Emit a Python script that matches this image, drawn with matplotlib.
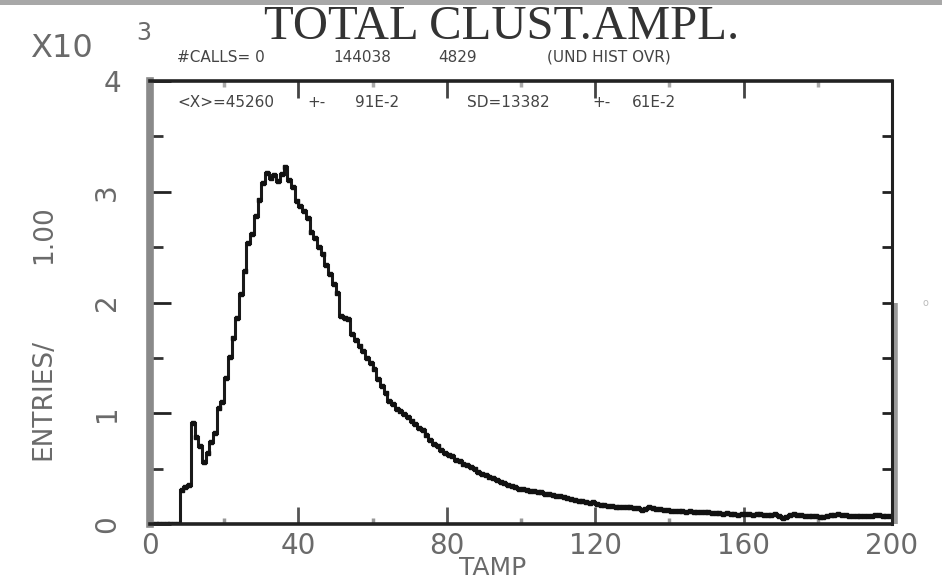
import numpy as np
import matplotlib
matplotlib.use("Agg")
import matplotlib.pyplot as plt

# TAMP histogram, bin width 1, bins 0..199
counts = [
    0, 0, 0, 0, 0, 0, 0, 0,
    310, 330, 350, 910, 790, 700, 560, 640, 740, 820,
    1050, 1100, 1320, 1510, 1680, 1860, 2080, 2280, 2540, 2620,
    2780, 2930, 3080, 3170, 3120, 3150, 3100, 3160, 3220, 3110,
    3040, 2920, 2870, 2830, 2760, 2640, 2580, 2500, 2440, 2340,
    2260, 2170, 2090, 1880, 1860, 1850, 1720, 1660, 1610, 1560,
    1500, 1450, 1400, 1310, 1250, 1180, 1110, 1080, 1040, 1020,
    990, 965, 930, 900, 870, 845, 800, 760, 725, 700,
    665, 640, 625, 610, 580, 565, 545, 530, 515, 495,
    470, 455, 440, 425, 415, 395, 380, 370, 355, 345,
    335, 320, 315, 305, 300, 295, 285, 285, 275, 270,
    265, 255, 250, 240, 235, 230, 220, 210, 205, 195,
    190, 195, 180, 170, 168, 165, 160, 158, 155, 152,
    150, 155, 148, 140, 128, 135, 150, 145, 138, 132,
    125, 122, 120, 118, 117, 115, 112, 118, 110, 105,
    108, 110, 106, 100, 98, 95, 92, 96, 90, 88,
    85, 88, 92, 86, 84, 88, 90, 85, 82, 80,
    86, 70, 55, 60, 80, 90, 85, 78, 72, 70,
    75, 68, 64, 62, 70, 78, 85, 88, 84, 80,
    76, 72, 70, 68, 72, 70, 74, 80, 78, 76,
    74, 76,
]
bin_width = 1.0
x_ticks = [0, 40, 80, 120, 160, 200]
x_minor = [20, 60, 100, 140, 180]
y_ticks = [0, 1, 2, 3, 4]
y_minor = [0.5, 1.5, 2.5, 3.5]

title = "TOTAL CLUST.AMPL."
calls_line = ["#CALLS= 0", "144038", "4829", "(UND HIST OVR)"]
stats_line = ["<X>=45260", "+-", "91E-2", "SD=13382", "+-", "61E-2"]

W, H = 942, 580
fig = plt.figure(figsize=(W / 100, H / 100), dpi=100)
fig.patch.set_facecolor("white")

ax = fig.add_axes([150 / W, 1 - 524 / H, 742 / W, 443 / H])
edges = np.arange(len(counts) + 1) * bin_width
vals = np.array(counts) / 1000.0
ax.stairs(vals, edges, color="#1a1a1a", lw=2.2)
ax.plot(edges[:-1] + 0.5 * bin_width, vals, ls="none", marker="s", ms=2.2,
        color="#111111")

ax.set_xlim(0, 200)
ax.set_ylim(0, 4)

lab_col = "#6a6a6a"
ax.set_xticks(x_ticks)
ax.set_xticks(x_minor, minor=True)
ax.set_xticklabels([str(t) for t in x_ticks], fontsize=20, color=lab_col,
                   family="DejaVu Sans")
ax.set_yticks(y_ticks)
ax.set_yticks(y_minor, minor=True)
ax.set_yticklabels([str(t) for t in y_ticks], fontsize=20, color=lab_col,
                   family="DejaVu Sans")
for lbl in ax.get_yticklabels()[:-1]:
    lbl.set_rotation(90)
    lbl.set_va("center")

ax.tick_params(axis="x", which="major", direction="in", length=12, width=2,
               color="#555555", pad=6)
ax.tick_params(axis="x", which="minor", direction="in", length=4, width=2.5,
               color="#999999")
ax.tick_params(axis="y", which="major", direction="in", length=15, width=2,
               color="#222222", pad=21)
ax.tick_params(axis="y", which="minor", direction="in", length=9, width=2,
               color="#333333")

# ticks on the top and right frame, no labels
top = ax.secondary_xaxis("top")
top.set_xticks(x_ticks)
top.set_xticks(x_minor, minor=True)
top.tick_params(which="major", direction="in", length=12, width=2,
                color="#444444", labeltop=False)
top.tick_params(which="minor", direction="in", length=4, width=2.5,
                color="#aaaaaa")
top.spines["top"].set_visible(False)

right = ax.secondary_yaxis("right")
right.set_yticks(y_ticks[1:-1] + y_minor)
right.tick_params(which="major", direction="in", length=7, width=2,
                  color="#222222", labelright=False)
right.spines["right"].set_visible(False)

for side in ["top", "bottom"]:
    ax.spines[side].set_color("#222222")
    ax.spines[side].set_linewidth(2.6)
ax.spines["right"].set_color("#222222")
ax.spines["right"].set_linewidth(2.2)
ax.spines["left"].set_color("#8a8a8a")
ax.spines["left"].set_linewidth(5.5)
# grey smear on the lower right frame
ax.plot([200.8, 200.8], [0, 2.0], color="#999999", lw=4, clip_on=False,
        solid_capstyle="butt", zorder=1)

# title and axis annotations
fig.text(502 / W, 1 - 39 / H, title, family="Liberation Serif", fontsize=35,
         color="#333333", ha="center", va="baseline")
fig.text(30 / W, 1 - 57 / H, "X10", family="DejaVu Sans", fontsize=23,
         color=lab_col, ha="left", va="baseline")
fig.text(136 / W, 1 - 40 / H, "3", family="DejaVu Sans", fontsize=17,
         color=lab_col, ha="left", va="baseline")
fig.text(493 / W, 5 / H, "TAMP", family="DejaVu Sans", fontsize=18,
         color=lab_col, ha="center", va="baseline")
fig.text(43 / W, 1 - 400 / H, "ENTRIES/", family="DejaVu Sans", fontsize=19,
         color=lab_col, rotation=90, ha="center", va="center")
fig.text(44 / W, 1 - 235 / H, "1.00", family="DejaVu Sans", fontsize=19,
         color=lab_col, rotation=90, ha="center", va="center")

# statistics lines
for txt, xp in zip(calls_line, [177, 333, 438, 547]):
    fig.text(xp / W, 1 - 62 / H, txt, family="DejaVu Sans", fontsize=11,
             color="#444444", ha="left", va="baseline")
for txt, xp in zip(stats_line, [177, 307, 355, 467, 592, 632]):
    fig.text(xp / W, 1 - 107 / H, txt, family="DejaVu Sans", fontsize=11,
             color="#444444", ha="left", va="baseline")

# small mark beside the frame
fig.text(925 / W, 1 - 303 / H, "o", family="DejaVu Sans", fontsize=7,
         color="#bbbbbb", ha="center", va="center")

# grey strip along the top edge
fig.add_artist(plt.Rectangle((0, 1 - 5 / H), 1, 5 / H, transform=fig.transFigure,
                             color="#a8a8a8", lw=0))

fig.savefig("out.png", dpi=100)
